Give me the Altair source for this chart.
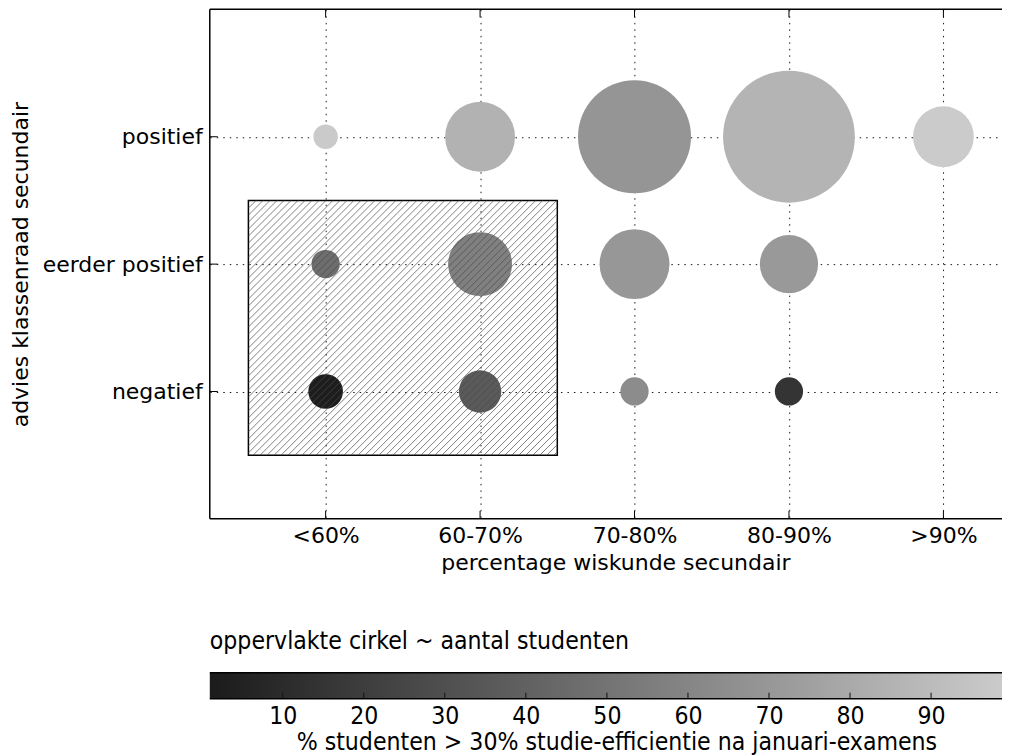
import altair as alt
import numpy as np
import pandas as pd

# ---------------- data ----------------
math_cats = ["<60%", "60-70%", "70-80%", "80-90%", ">90%"]
advice_cats = ["negatief", "eerder positief", "positief"]

# number of students (circle area) per advice row, per maths category
n_negatief = [12, 18, 8, 8, None]
n_eerder = [8, 41, 49, 34, None]
n_positief = [6, 49, 128, 174, 37]

# % students > 30% study efficiency after January exams (circle colour)
pct_negatief = [2, 36, 64, 15, None]
pct_eerder = [47, 57, 70, 71, None]
pct_positief = [98, 85, 69, 86, 99]

# highlighted block (in category index units)
rect_x = [-0.5, 1.5]
rect_y = [-0.5, 1.5]

cb_ticks = [10, 20, 30, 40, 50, 60, 70, 80, 90]
gray_lo, gray_hi = "#1b1b1b", "#cbcbcb"

# ---------------- layout ----------------
W, H = 793, 510
PXU = 154.6                      # pixels per category step
XD = [-0.75, -0.75 + W / PXU]
YD = [-1, 3]
CBU = 8.1125                     # pixels per colour-bar unit
cb_range = [1, 1 + W / CBU]
FONT = "DejaVu Sans"
CFONT = "DejaVu Sans Condensed"
CFS = 24.6

rows = []
for yi, (ns, ps) in enumerate([(n_negatief, pct_negatief), (n_eerder, pct_eerder), (n_positief, pct_positief)]):
    for xi, (n, p) in enumerate(zip(ns, ps)):
        if n is not None:
            rows.append({"xi": xi, "yi": yi, "n": n, "pct": p,
                         "math": math_cats[xi], "advies": advice_cats[yi]})
df = pd.DataFrame(rows)

x_lab = "[" + ",".join("'%s'" % c for c in math_cats) + "][datum.value]"
y_lab = "[" + ",".join("'%s'" % c for c in advice_cats) + "][datum.value]"

xscale = alt.Scale(domain=XD, nice=False, zero=False)
yscale = alt.Scale(domain=YD, nice=False, zero=False)
xaxis = alt.Axis(values=list(range(len(math_cats))), labelExpr=x_lab,
                 title="percentage wiskunde secundair", titleX=406,
                 labelPadding=7, titlePadding=6)
yaxis = alt.Axis(values=list(range(len(advice_cats))), labelExpr=y_lab,
                 title="advies klassenraad secundair",
                 labelPadding=7.6, titlePadding=10)

circles = alt.Chart(df).mark_circle(opacity=1).encode(
    x=alt.X("xi:Q", scale=xscale, axis=xaxis),
    y=alt.Y("yi:Q", scale=yscale, axis=yaxis),
    size=alt.Size("n:Q", scale=alt.Scale(type="linear", domain=[0, 200], range=[0, 20000]), legend=None),
    color=alt.Color("pct:Q", scale=alt.Scale(domain=cb_range, range=[gray_lo, gray_hi],
                                             interpolate="rgb"), legend=None),
)

rect_df = pd.DataFrame({"x0": [rect_x[0]], "x1": [rect_x[1]], "y0": [rect_y[0]], "y1": [rect_y[1]]})
block = alt.Chart(rect_df).mark_rect(fillOpacity=0, stroke="black", strokeWidth=1.5).encode(
    x=alt.X("x0:Q", scale=xscale, axis=xaxis), x2="x1:Q",
    y=alt.Y("y0:Q", scale=yscale, axis=yaxis), y2="y1:Q",
)

# hatch lines (45 degrees in screen space) clipped to the block
pyu = H / (YD[1] - YD[0])
Wp = (rect_x[1] - rect_x[0]) * PXU
Hp = (rect_y[1] - rect_y[0]) * pyu
s = 7.0
hat = []
for c in np.arange(-Wp + s / 2, Hp, s):
    u0 = max(0.0, -c)
    u1 = min(Wp, Hp - c)
    if u1 > u0:
        hat.append({"hx": rect_x[0] + u0 / PXU, "hy": rect_y[0] + (u0 + c) / pyu,
                    "hx2": rect_x[0] + u1 / PXU, "hy2": rect_y[0] + (u1 + c) / pyu})
hatch = alt.Chart(pd.DataFrame(hat)).mark_rule(stroke="#4a4a4a", strokeWidth=0.7).encode(
    x=alt.X("hx:Q", scale=xscale, axis=xaxis), x2="hx2:Q",
    y=alt.Y("hy:Q", scale=yscale, axis=yaxis), y2="hy2:Q",
)

xt = pd.DataFrame({"xi": list(range(len(math_cats)))})
yt = pd.DataFrame({"yi": list(range(len(advice_cats)))})
tick_b = alt.Chart(xt).mark_rule(color="black", strokeWidth=1).encode(
    x=alt.X("xi:Q", scale=xscale, axis=xaxis), y=alt.value(H), y2=alt.value(H - 8))
tick_t = alt.Chart(xt).mark_rule(color="black", strokeWidth=1).encode(
    x=alt.X("xi:Q", scale=xscale, axis=xaxis), y=alt.value(0), y2=alt.value(8))
tick_l = alt.Chart(yt).mark_rule(color="black", strokeWidth=1).encode(
    y=alt.Y("yi:Q", scale=yscale, axis=yaxis), x=alt.value(0), x2=alt.value(8))

one = pd.DataFrame({"a": [0]})
spine_l = alt.Chart(one).mark_rule(color="black", strokeWidth=1.5).encode(
    x=alt.value(0), y=alt.value(0), y2=alt.value(H))
spine_t = alt.Chart(one).mark_rule(color="black", strokeWidth=1.5).encode(
    x=alt.value(0), x2=alt.value(W), y=alt.value(0))
spine_b = alt.Chart(one).mark_rule(color="black", strokeWidth=1.5).encode(
    x=alt.value(0), x2=alt.value(W), y=alt.value(H))

main = alt.layer(circles, block, hatch, tick_b, tick_t, tick_l, spine_l, spine_t, spine_b).properties(
    width=W, height=H)

# ---------------- colour bar ----------------
CBH = 26
cb_df = pd.DataFrame({"lo": [cb_range[0]], "hi": [cb_range[1]]})
cbscale = alt.Scale(domain=cb_range, nice=False, zero=False)
cbaxis = alt.Axis(values=cb_ticks, grid=False, labelFont=CFONT, labelFontSize=CFS,
                  labelPadding=5.5, title="% studenten > 30% studie-efficientie na januari-examens",
                  titleFont=CFONT, titleFontSize=CFS, titleX=407, titlePadding=3)
grad = alt.Gradient(gradient="linear",
                    stops=[alt.GradientStop(color=gray_lo, offset=0),
                           alt.GradientStop(color=gray_hi, offset=1)],
                    x1=0, x2=1, y1=0, y2=0)
cbar = alt.Chart(cb_df).mark_rect(fill=grad).encode(
    x=alt.X("lo:Q", scale=cbscale, axis=cbaxis),
    x2="hi:Q",
    y=alt.value(0), y2=alt.value(CBH),
)
cb_t = pd.DataFrame({"lo": cb_ticks})
cb_ticks_l = alt.Chart(cb_t).mark_rule(color="#111111", strokeWidth=1).encode(
    x=alt.X("lo:Q", scale=cbscale, axis=cbaxis), y=alt.value(CBH), y2=alt.value(CBH - 6))
cb_top = alt.Chart(one).mark_rule(color="black", strokeWidth=1.5).encode(
    x=alt.value(0), x2=alt.value(W), y=alt.value(0))
cb_bot = alt.Chart(one).mark_rule(color="black", strokeWidth=1.5).encode(
    x=alt.value(0), x2=alt.value(W), y=alt.value(CBH))

colorbar = alt.layer(cbar, cb_ticks_l, cb_top, cb_bot).properties(
    width=W, height=CBH,
    title=alt.TitleParams("oppervlakte cirkel ~ aantal studenten", anchor="start", frame="group",
                          font=CFONT, fontSize=CFS, fontWeight="normal", baseline="alphabetic",
                          offset=-1.5, color="black"),
)

chart = alt.vconcat(main, colorbar, spacing=55).properties(
    padding={"left": 1, "top": 0, "right": 0, "bottom": 0}
).configure_view(stroke=None).configure_axis(
    grid=True, gridDash=[1.5, 5], gridColor="black", gridWidth=1, gridOpacity=0.9,
    ticks=False, domain=False, zindex=1,
    labelFont=FONT, labelFontSize=22, labelColor="black",
    titleFont=FONT, titleFontSize=22, titleFontWeight="normal", titleColor="black",
)

chart.save("out.html", embed_options={"renderer": "svg", "actions": False})
